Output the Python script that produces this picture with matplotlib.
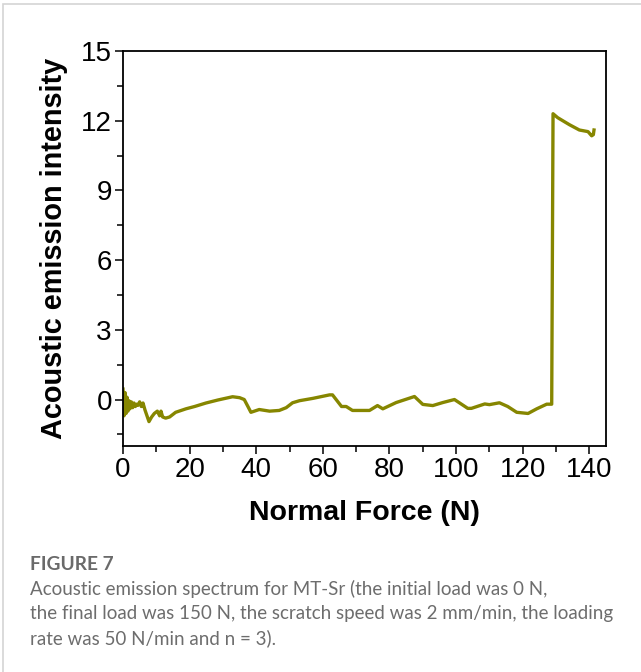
import matplotlib
matplotlib.use("Agg")
import matplotlib.pyplot as plt
from matplotlib.patches import Rectangle
from matplotlib.ticker import MultipleLocator

# Data (Normal force N, acoustic emission intensity)
force = [0.0, 0.3, 0.6, 0.9, 1.2, 1.5, 1.8, 2.1, 2.5, 2.9, 3.3, 3.7, 4.1, 4.5, 5.0, 5.5, 6.0,
         6.6, 7.2, 7.8, 8.6, 9.4, 10.3, 11.0, 11.4, 11.9, 12.8, 14.0, 15.8, 18.9, 21.5,
         24.9, 28.5, 32.9, 35.0, 36.4, 37.5, 38.4, 40.9, 44.0, 46.9, 49.0, 50.9,
         53.0, 57.0, 62.0, 62.9, 65.6, 67.0, 68.9, 74.0, 76.4, 78.0, 82.0, 87.5,
         90.0, 93.0, 96.0, 99.5, 103.5, 104.6, 108.6, 110.0, 113.0, 115.5, 118.2,
         121.6, 124.2, 127.2, 128.7, 129.1, 130.5, 134.0, 137.0, 139.6, 140.7, 141.2, 141.4]
intensity = [0.45, -0.7, 0.3, -0.6, 0.1, -0.5, -0.05, -0.4, -0.1, -0.35, -0.15, -0.3, -0.2,
             -0.25, -0.1, -0.3, -0.15, -0.45, -0.7, -0.95, -0.75, -0.6, -0.5, -0.7, -0.5,
             -0.75, -0.8, -0.75, -0.55, -0.4, -0.3, -0.15, -0.02, 0.12, 0.08, 0.0, -0.3,
             -0.55, -0.43, -0.5, -0.47, -0.35, -0.14, -0.05, 0.05, 0.2, 0.2, -0.3, -0.3,
             -0.47, -0.47, -0.26, -0.4, -0.13, 0.13, -0.21, -0.26, -0.13, 0.0, -0.38,
             -0.38, -0.19, -0.22, -0.14, -0.3, -0.55, -0.6, -0.4, -0.2, -0.2, 12.3, 12.13,
             11.83, 11.6, 11.53, 11.35, 11.4, 11.6]

xticks = [0, 20, 40, 60, 80, 100, 120, 140]
yticks = [0, 3, 6, 9, 12, 15]

W, H = 641, 672
fig = plt.figure(figsize=(W / 100, H / 100), dpi=100)

# light frame around the figure
fig.patches.append(Rectangle((3 / W, -0.05), 1.2, 1 - 4 / H + 0.05, transform=fig.transFigure,
                             fill=False, edgecolor='#d4d4d4', linewidth=1.2))

ax = fig.add_axes([123 / W, 1 - 446 / H, (606 - 123) / W, (446 - 51) / H])
ax.plot(force, intensity, color='#868600', linewidth=2.4, solid_joinstyle='round')

ax.set_xlim(0, 145)
ax.set_ylim(-2, 15)
ax.set_xticks(xticks)
ax.set_yticks(yticks)
ax.xaxis.set_minor_locator(MultipleLocator(10))
ax.yaxis.set_minor_locator(MultipleLocator(1.5))

tick_font = dict(family='Liberation Sans', size=20)
ax.set_xticklabels([str(t) for t in xticks], **tick_font)
ax.set_yticklabels([str(t) for t in yticks], **tick_font)
ax.tick_params(which='major', direction='out', length=6, width=1.1, pad=2)
ax.tick_params(which='minor', direction='out', length=4, width=1.1)
for s in ax.spines.values():
    s.set_linewidth(1.3)

ax.set_xlabel('Normal Force (N)', family='Liberation Sans', fontsize=20.5, fontweight='bold',
              labelpad=12)
ax.set_ylabel('Acoustic emission intensity', family='Liberation Sans', fontsize=20.8,
              fontweight='bold', labelpad=9)

cap_color = '#6d6d6d'
fig.text(30 / W, 1 - 565 / H, 'FIGURE 7', family='Lato', fontsize=13.8, fontweight='bold',
         color='#6a6a6a', va='center', ha='left')
lines = ['Acoustic emission spectrum for MT-Sr (the initial load was 0 N,',
         'the final load was 150 N, the scratch speed was 2 mm/min, the loading',
         'rate was 50 N/min and n = 3).']
for i, ln in enumerate(lines):
    fig.text(30 / W, 1 - (589 + i * 24.5) / H, ln, family='Lato', fontsize=13.5,
             color=cap_color, va='center', ha='left')

fig.savefig('out.png', dpi=100)
